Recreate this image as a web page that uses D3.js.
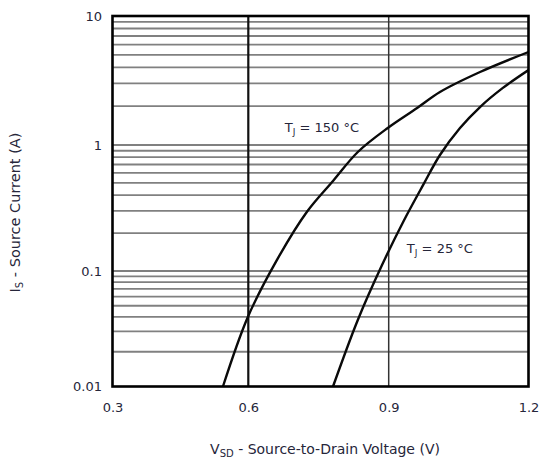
<!DOCTYPE html>
<html>
<head>
<meta charset="utf-8">
<script src="https://cdn.jsdelivr.net/npm/d3@7"></script>
<style>
  body { margin: 0; background: #fff; }
  svg { display: block; }
  text { font-family: "DejaVu Sans", "Liberation Sans", Arial, sans-serif; fill: #26263a; }
</style>
</head>
<body>
<svg id="chart" width="542" height="461"></svg>
<script>
// Axis ticks
const xTicks = [0.3, 0.6, 0.9, 1.2];
const yTicks = [0.01, 0.1, 1, 10];
const yTickLabels = ["0.01", "0.1", "1", "10"];

// Source-drain diode forward characteristic, TJ = 150 °C
const vsd150 = [0.544, 0.599, 0.661, 0.725, 0.781, 0.834, 0.898, 0.961, 1.010, 1.096, 1.200];
const is150  = [0.010, 0.040, 0.122, 0.294, 0.518, 0.880, 1.355, 1.935, 2.575, 3.680, 5.260];

// Source-drain diode forward characteristic, TJ = 25 °C
const vsd25 = [0.781, 0.834, 0.886, 0.931, 0.974, 1.010, 1.053, 1.096, 1.145, 1.200];
const is25  = [0.010, 0.0377, 0.112, 0.245, 0.482, 0.833, 1.355, 1.970, 2.770, 3.810];

const seriesTemps = ["150", "25"];

const svg = d3.select("#chart");

// Plot frame
const plotLeft = 112.5, plotRight = 528.5, plotTop = 16, plotBottom = 386.5;

const x = d3.scaleLinear()
  .domain(xTicks)
  .range([plotLeft, 248.3, 388.7, plotRight]);

const y = d3.scaleLog()
  .domain(yTicks)
  .range([plotBottom, 271, 145, plotTop]);

// Horizontal log grid: 2..9 inside each decade plus the decade lines
const gridVals = [];
for (let d = 0; d < yTicks.length - 1; d++) {
  for (let k = 1; k <= 9; k++) {
    const v = yTicks[d] * k;
    if (v > yTicks[0] && v < yTicks[yTicks.length - 1]) gridVals.push(v);
  }
}

const grid = svg.append("g");
grid.selectAll("line.h")
  .data(gridVals)
  .join("line")
  .attr("class", "h")
  .attr("x1", plotLeft).attr("x2", plotRight)
  .attr("y1", d => y(d)).attr("y2", d => y(d))
  .attr("stroke", "#808080")
  .attr("stroke-width", 1.8);

// Vertical grid at the inner x ticks
grid.selectAll("line.v")
  .data(xTicks.slice(1, -1))
  .join("line")
  .attr("class", "v")
  .attr("x1", d => x(d)).attr("x2", d => x(d))
  .attr("y1", plotTop).attr("y2", plotBottom)
  .attr("stroke", (d, i) => i === 0 ? "#111" : "#333")
  .attr("stroke-width", (d, i) => i === 0 ? 2.2 : 1.5);

// Curves
const clipId = "plotclip";
svg.append("clipPath").attr("id", clipId)
  .append("rect")
  .attr("x", plotLeft).attr("y", plotTop)
  .attr("width", plotRight - plotLeft).attr("height", plotBottom - plotTop);

const line = d3.line()
  .x(d => x(d[0]))
  .y(d => y(d[1]))
  .curve(d3.curveCatmullRom.alpha(0.5));

const series = [
  d3.zip(vsd150, is150),
  d3.zip(vsd25, is25)
];

svg.append("g")
  .attr("clip-path", `url(#${clipId})`)
  .selectAll("path")
  .data(series)
  .join("path")
  .attr("d", line)
  .attr("fill", "none")
  .attr("stroke", "#0a0a0a")
  .attr("stroke-width", 2.4)
  .attr("stroke-linejoin", "round");

// Frame
svg.append("rect")
  .attr("x", plotLeft).attr("y", plotTop)
  .attr("width", plotRight - plotLeft).attr("height", plotBottom - plotTop)
  .attr("fill", "none")
  .attr("stroke", "#000")
  .attr("stroke-width", 2.6);

// Axes (labels only)
const xAxis = svg.append("g")
  .attr("transform", `translate(0,${plotBottom})`)
  .call(d3.axisBottom(x).tickValues(xTicks).tickFormat(d3.format(".1f")).tickSize(0).tickPadding(16));
xAxis.select(".domain").remove();
xAxis.attr("font-family", null).attr("font-size", null);
xAxis.selectAll("text")
  .attr("font-size", 13)
  .attr("fill", "#26263a");

const yAxis = svg.append("g")
  .attr("transform", `translate(${plotLeft},0)`)
  .call(d3.axisLeft(y).tickValues(yTicks).tickFormat((d, i) => yTickLabels[i]).tickSize(0).tickPadding(10.5));
yAxis.select(".domain").remove();
yAxis.attr("font-family", null).attr("font-size", null);
yAxis.selectAll("text")
  .attr("font-size", 13)
  .attr("fill", "#26263a");

// Curve annotations
const annot = [
  { t: seriesTemps[0], v: 0.678, i: 1.27 },
  { t: seriesTemps[1], v: 0.939, i: 0.139 }
];
annot.forEach(a => {
  const txt = svg.append("text")
    .attr("x", x(a.v))
    .attr("y", y(a.i))
    .attr("font-size", 13);
  txt.append("tspan").text("T");
  txt.append("tspan").attr("font-size", 9).attr("dy", 3).text("J");
  txt.append("tspan").attr("dy", -3).text(` = ${a.t} °C`);
});

// Axis titles
const xt = svg.append("text")
  .attr("x", 325)
  .attr("y", 454)
  .attr("text-anchor", "middle")
  .attr("font-size", 14);
xt.append("tspan").text("V");
xt.append("tspan").attr("font-size", 10).attr("dy", 3).text("SD");
xt.append("tspan").attr("dy", -3).text(" - Source-to-Drain Voltage (V)");

const yt = svg.append("text")
  .attr("transform", "translate(20,212.5) rotate(-90)")
  .attr("text-anchor", "middle")
  .attr("font-size", 14.5);
yt.append("tspan").text("I");
yt.append("tspan").attr("font-size", 10).attr("dy", 3).text("S");
yt.append("tspan").attr("dy", -3).text(" - Source Current (A)");
</script>
</body>
</html>
